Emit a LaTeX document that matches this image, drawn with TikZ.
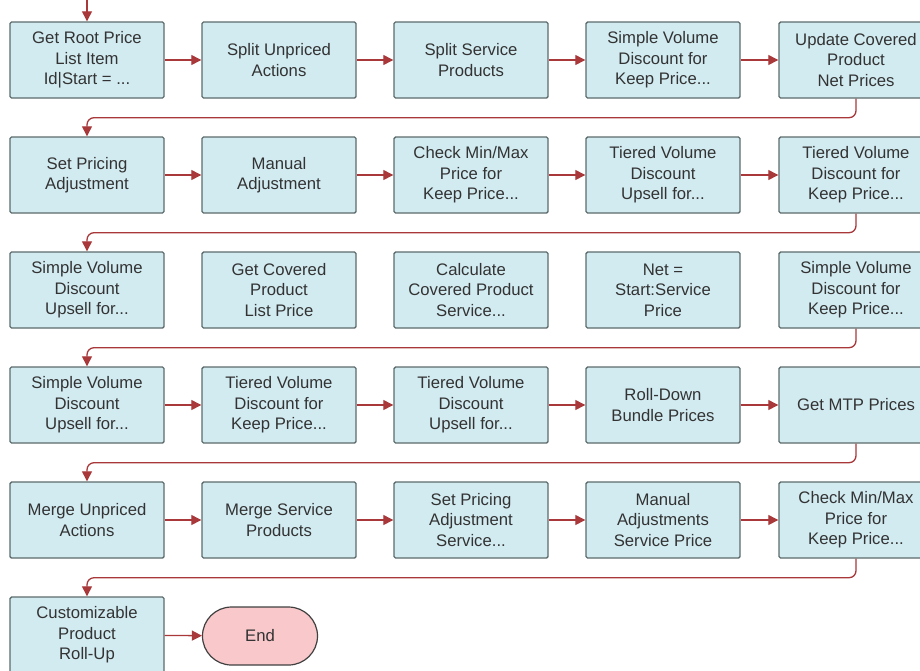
\documentclass[tikz,border=0pt]{standalone}
\usepackage{fontspec}
\setmainfont{Liberation Sans}
\usetikzlibrary{arrows.meta}
\definecolor{boxfill}{HTML}{D2EBF1}
\definecolor{boxline}{HTML}{5E6B6B}
\definecolor{endfill}{HTML}{F8C8CB}
\definecolor{flowred}{HTML}{A8383A}
\definecolor{txt}{HTML}{333333}
\tikzset{
  task/.style={draw=boxline, fill=boxfill, line width=1.4pt, rounded corners=1.5pt,
    minimum width=154pt, minimum height=76pt, align=center, text=txt,
    font=\fontsize{16.7}{20.6}\selectfont},
  terminal/.style={draw=black!75, fill=endfill, line width=1.2pt, rounded corners=29pt,
    minimum width=115pt, minimum height=58pt, text=txt, font=\fontsize{16.7}{20.6}\selectfont},
  flow/.style={draw=flowred, line width=1.3pt, -{Triangle[width=10pt,length=10pt]}},
  wrap/.style={flow, rounded corners=7pt}
}
\begin{document}
\begin{tikzpicture}[x=1pt,y=-1pt]
    \useasboundingbox (0,0) rectangle (920,670);
    % Row 1
        \node[task] (rootprice) at (87,60) {Get Root Price\\List Item\\Id|Start = ...};
        \node[task] (splitactions) at (279,60) {Split Unpriced\\Actions};
        \node[task] (splitservice) at (471,60) {Split Service\\Products};
        \node[task] (simplekeepa) at (663,60) {Simple Volume\\Discount for\\Keep Price...};
        \node[task] (updatenet) at (856,60) {Update Covered\\Product\\Net Prices};
    % Row 2
        \node[task] (setadjust) at (87,175) {Set Pricing\\Adjustment};
        \node[task] (manualadjust) at (279,175) {Manual\\Adjustment};
        \node[task] (minmaxa) at (471,175) {Check Min/Max\\Price for\\Keep Price...};
        \node[task] (tieredupsella) at (663,175) {Tiered Volume\\Discount\\Upsell for...};
        \node[task] (tieredkeepa) at (856,175) {Tiered Volume\\Discount for\\Keep Price...};
    % Row 3
        \node[task] (simpleupsella) at (87,290) {Simple Volume\\Discount\\Upsell for...};
        \node[task] (coveredlist) at (279,290) {Get Covered\\Product\\List Price};
        \node[task] (calccovered) at (471,290) {Calculate\\Covered Product\\Service...};
        \node[task] (netstart) at (663,290) {Net =\\Start:Service\\Price};
        \node[task] (simplekeepb) at (856,290) {Simple Volume\\Discount for\\Keep Price...};
    % Row 4
        \node[task] (simpleupsellb) at (87,405) {Simple Volume\\Discount\\Upsell for...};
        \node[task] (tieredkeepb) at (279,405) {Tiered Volume\\Discount for\\Keep Price...};
        \node[task] (tieredupsellb) at (471,405) {Tiered Volume\\Discount\\Upsell for...};
        \node[task] (rolldown) at (663,405) {Roll-Down\\Bundle Prices};
        \node[task] (mtpprices) at (856,405) {Get MTP Prices};
    % Row 5
        \node[task] (mergeactions) at (87,520) {Merge Unpriced\\Actions};
        \node[task] (mergeservice) at (279,520) {Merge Service\\Products};
        \node[task] (setadjustsvc) at (471,520) {Set Pricing\\Adjustment\\Service...};
        \node[task] (manualsvc) at (663,520) {Manual\\Adjustments\\Service Price};
        \node[task] (minmaxb) at (856,520) {Check Min/Max\\Price for\\Keep Price...};
    % Row 6
        \node[task] (rollup) at (87,635) {Customizable\\Product\\Roll-Up};
        \node[terminal] (finish) at (260,636) {End};
    % Incoming arrow at the top.
        \coordinate (begin) at (87,0);
        \draw[flow] (begin) -- (rootprice.north);
    % Arrows along the rows.
        \draw[flow] (rootprice) -- (splitactions);
        \draw[flow] (splitactions) -- (splitservice);
        \draw[flow] (splitservice) -- (simplekeepa);
        \draw[flow] (simplekeepa) -- (updatenet);
        \draw[flow] (setadjust) -- (manualadjust);
        \draw[flow] (manualadjust) -- (minmaxa);
        \draw[flow] (minmaxa) -- (tieredupsella);
        \draw[flow] (tieredupsella) -- (tieredkeepa);
        \draw[flow] (simpleupsellb) -- (tieredkeepb);
        \draw[flow] (tieredkeepb) -- (tieredupsellb);
        \draw[flow] (tieredupsellb) -- (rolldown);
        \draw[flow] (rolldown) -- (mtpprices);
        \draw[flow] (mergeactions) -- (mergeservice);
        \draw[flow] (mergeservice) -- (setadjustsvc);
        \draw[flow] (setadjustsvc) -- (manualsvc);
        \draw[flow] (manualsvc) -- (minmaxb);
        \draw[flow] (rollup) -- (finish);
    % These wrap from the end of one row to the start of the next.
        \draw[wrap] (updatenet.south) -- ++(0,19) -| (setadjust.north);
        \draw[wrap] (tieredkeepa.south) -- ++(0,19) -| (simpleupsella.north);
        \draw[wrap] (simplekeepb.south) -- ++(0,19) -| (simpleupsellb.north);
        \draw[wrap] (mtpprices.south) -- ++(0,19) -| (mergeactions.north);
        \draw[wrap] (minmaxb.south) -- ++(0,19) -| (rollup.north);
\end{tikzpicture}
\end{document}
